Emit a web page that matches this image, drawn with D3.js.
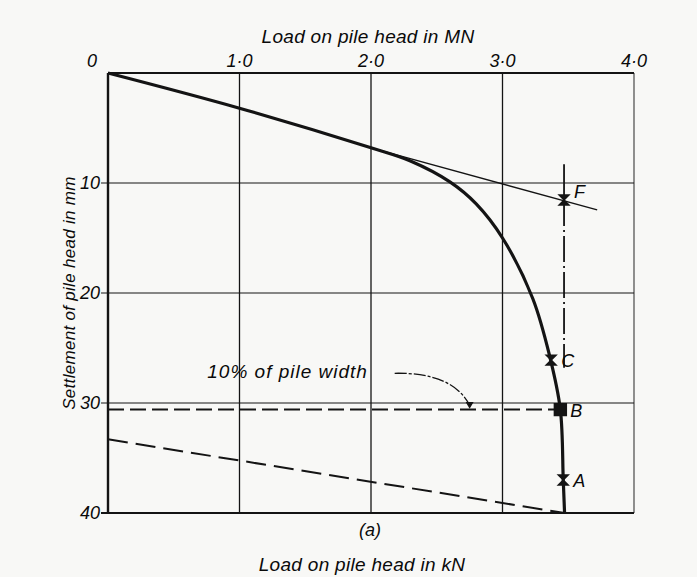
<!DOCTYPE html>
<html>
<head>
<meta charset="utf-8">
<script src="https://cdn.jsdelivr.net/npm/d3@7"></script>
<style>
  html, body { margin: 0; padding: 0; background: #f8f8f6; }
  svg { display: block; }
  text { font-family: "Liberation Sans", Arial, sans-serif; font-style: italic; fill: #0a0a0a; }
</style>
</head>
<body>
<div id="chart"></div>
<script>
// load-settlement curve (load in MN, settlement in mm)
const curveLoad   = [0, 1.0, 2.0, 2.3, 2.6, 2.8, 3.0, 3.23, 3.36, 3.44, 3.462, 3.472];
const curveSettle = [0, 3.2, 6.8, 8.0, 9.9, 11.9, 15.0, 20.5, 25.8, 30.6, 37.0, 40.0];

const xTicks = [0, 1, 2, 3, 4];
const xTickLabels = ['0', '1·0', '2·0', '3·0', '4·0'];
const yTicks = [10, 20, 30, 40];

// marked points on the curve
const pointNames  = ['F', 'C', 'B', 'A'];
const pointLoad   = [3.468, 3.37, 3.44, 3.462];
const pointSettle = [11.55, 26.1, 30.6, 37.0];

// construction lines
const tangentLoad   = [2.0, 3.72];
const tangentSettle = [6.8, 12.45];
const offsetLoad    = [0, 3.472];      // dashed line to the foot of the curve
const offsetSettle  = [33.3, 40.0];
const widthLimit    = 30.6;            // 10% of pile width
const ultimateLoad  = 3.468;
const ultimateFrom  = 8.3;
const ultimateTo    = 26.8;

const W = 697, H = 577;
const x = d3.scaleLinear().domain([0, 4]).range([108, 634]);
const y = d3.scaleLinear().domain([0, 40]).range([73, 513]);

const svg = d3.select('#chart').append('svg')
  .attr('width', W).attr('height', H);

const ink = '#141414';

// grid: vertical lines at each MN, horizontal at each 10 mm
svg.append('g').selectAll('line')
  .data(xTicks.slice(1))
  .join('line')
  .attr('x1', d => x(d)).attr('x2', d => x(d))
  .attr('y1', y(0)).attr('y2', y(40))
  .attr('stroke', d => d === 4 ? '#555' : ink)
  .attr('stroke-width', 1.3);

svg.append('g').selectAll('line')
  .data(yTicks)
  .join('line')
  .attr('x1', x(0) - 7).attr('x2', x(4))
  .attr('y1', d => y(d)).attr('y2', d => y(d))
  .attr('stroke', ink)
  .attr('stroke-width', d => d === 40 ? 1.8 : 1.2);

// main axes (top and left)
svg.append('line')
  .attr('x1', x(0)).attr('x2', x(4)).attr('y1', y(0)).attr('y2', y(0))
  .attr('stroke', ink).attr('stroke-width', 2);
svg.append('line')
  .attr('x1', x(0)).attr('x2', x(0)).attr('y1', y(0)).attr('y2', y(40))
  .attr('stroke', ink).attr('stroke-width', 2.4);

// tick labels
svg.append('g').selectAll('text')
  .data(xTicks)
  .join('text')
  .attr('x', (d, i) => i === 0 ? x(d) - 16 : x(d))
  .attr('y', y(0) - 6)
  .attr('text-anchor', 'middle')
  .style('font-size', '18px')
  .text((d, i) => xTickLabels[i]);

svg.append('g').selectAll('text')
  .data(yTicks)
  .join('text')
  .attr('x', x(0) - 8)
  .attr('y', d => y(d) + 6)
  .attr('text-anchor', 'end')
  .style('font-size', '18px')
  .text(d => d);

// axis titles
svg.append('text')
  .attr('x', 368).attr('y', 43)
  .attr('text-anchor', 'middle')
  .style('font-size', '19px')
  .style('letter-spacing', '0.3px')
  .text('Load on pile head in MN');

svg.append('text')
  .attr('transform', `translate(75,${y(20)}) rotate(-90)`)
  .attr('text-anchor', 'middle')
  .style('font-size', '17px')
  .style('letter-spacing', '0.3px')
  .text('Settlement of pile head in mm');

svg.append('text')
  .attr('x', 370).attr('y', 536)
  .attr('text-anchor', 'middle')
  .style('font-size', '18px')
  .text('(a)');

svg.append('text')
  .attr('x', 362).attr('y', 571)
  .attr('text-anchor', 'middle')
  .style('font-size', '19px')
  .style('letter-spacing', '0.3px')
  .text('Load on pile head in kN');

// construction lines
const seg = d3.line().x(d => x(d[0])).y(d => y(d[1]));

svg.append('path')
  .attr('d', seg(d3.zip(tangentLoad, tangentSettle)))
  .attr('fill', 'none').attr('stroke', ink).attr('stroke-width', 1.4);

svg.append('path')
  .attr('d', seg(d3.zip(offsetLoad, offsetSettle)))
  .attr('fill', 'none').attr('stroke', ink).attr('stroke-width', 2)
  .attr('stroke-dasharray', '20 8');

svg.append('path')
  .attr('d', seg([[0, widthLimit], [pointLoad[2], widthLimit]]))
  .attr('fill', 'none').attr('stroke', ink).attr('stroke-width', 2)
  .attr('stroke-dasharray', '16 6');

// ultimate load line: solid above F, chain below
svg.append('path')
  .attr('d', seg([[ultimateLoad, ultimateFrom], [ultimateLoad, pointSettle[0]]]))
  .attr('stroke', ink).attr('stroke-width', 1.8);
svg.append('path')
  .attr('d', seg([[ultimateLoad, pointSettle[0]], [ultimateLoad, ultimateTo]]))
  .attr('stroke', ink).attr('stroke-width', 1.8)
  .attr('stroke-dasharray', '26 4 2 4');

// load-settlement curve
const curve = d3.line()
  .x(d => x(d[0])).y(d => y(d[1]))
  .curve(d3.curveCatmullRom.alpha(0.5));

svg.append('path')
  .attr('d', curve(d3.zip(curveLoad, curveSettle)))
  .attr('fill', 'none').attr('stroke', ink).attr('stroke-width', 3.2);

// 10% of pile width annotation with curved arrow
svg.append('text')
  .attr('x', x(0.755)).attr('y', y(27.7))
  .style('font-size', '19px')
  .style('letter-spacing', '1px')
  .text('10% of pile width');

const a0 = [x(2.18), y(27.3)], ac = [x(2.62), y(27.2)], a1 = [x(2.75), y(30.2)];
svg.append('path')
  .attr('d', `M${a0}Q${ac} ${a1}`)
  .attr('fill', 'none').attr('stroke', ink).attr('stroke-width', 1.3)
  .attr('stroke-dasharray', '12 2 3 2');
svg.append('path')
  .attr('d', d3.symbol(d3.symbolTriangle, 28)())
  .attr('transform', `translate(${a1[0]},${a1[1] - 1}) rotate(180)`)
  .attr('fill', ink);

// point markers (bow ties) and labels
const pts = svg.append('g').selectAll('g')
  .data(pointNames)
  .join('g')
  .attr('transform', (d, i) => `translate(${x(pointLoad[i])},${y(pointSettle[i])})`);

pts.append('path')
  .attr('d', d => d === 'B'
    ? 'M-6,-6H6V6H-6Z'
    : 'M-5,-5L5,-5L-5,5L5,5Z')
  .attr('fill', ink)
  .attr('stroke', ink).attr('stroke-width', 1.4);

pts.append('text')
  .attr('x', 10).attr('y', (d, i) => i === 0 ? -2 : 7)
  .style('font-size', '18px')
  .text(d => d);
</script>
</body>
</html>
